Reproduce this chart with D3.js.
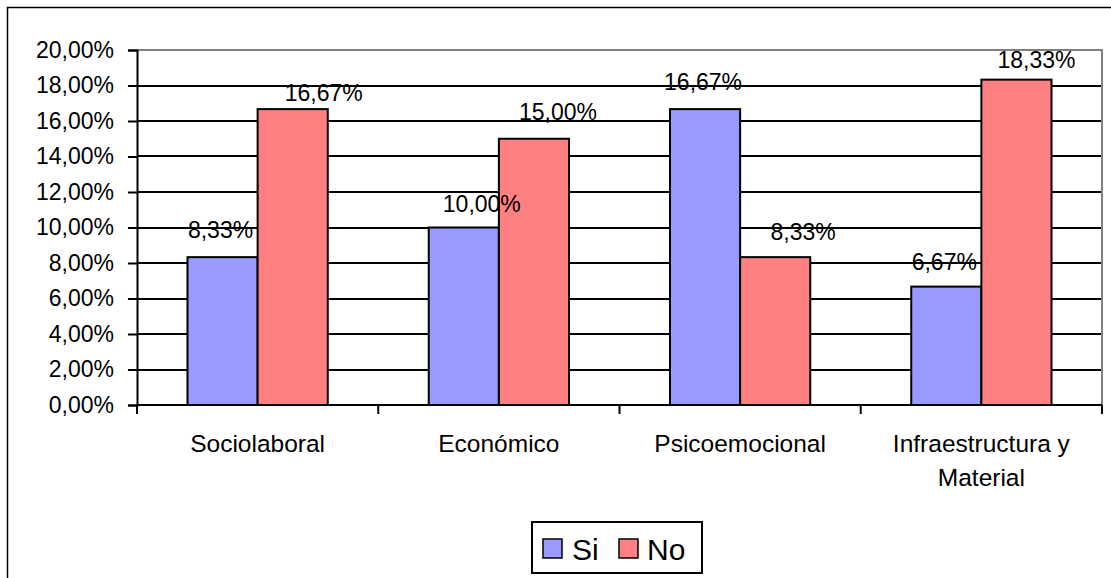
<!DOCTYPE html>
<html>
<head>
<meta charset="utf-8">
<script src="https://cdn.jsdelivr.net/npm/d3@7/dist/d3.min.js"></script>
<style>
  html, body { margin: 0; padding: 0; background: #fff; }
  svg { display: block; font-family: "Liberation Sans", Arial, sans-serif; }
</style>
</head>
<body>
<svg id="chart" width="1111" height="578"></svg>
<script>
// Chart data
const categories = ["Sociolaboral", "Económico", "Psicoemocional", "Infraestructura y Material"];
const seriesNames = ["Si", "No"];
const siValues = [0.0833, 0.10, 0.1667, 0.0667];
const noValues = [0.1667, 0.15, 0.0833, 0.1833];
const yTickValues = [0, 0.02, 0.04, 0.06, 0.08, 0.10, 0.12, 0.14, 0.16, 0.18, 0.20];

// Manual nudges of the value labels [dx, dy] relative to the bar's top centre
const siLabelNudge = [[-2, -19], [18, -16], [-2, -19], [-2, -17]];
const noLabelNudge = [[31, -8], [24, -19], [28, -17], [20, -12]];

const colors = { Si: "#9999FF", No: "#FF8080" };

const svg = d3.select("#chart");

// Chart area border (runs off the right and bottom edges)
svg.append("rect")
  .attr("x", 7.5).attr("y", 7.5)
  .attr("width", 1120).attr("height", 600)
  .attr("fill", "#fff").attr("stroke", "#000").attr("stroke-width", 1.5);

const plot = { left: 137, right: 1102, top: 50, bottom: 405 };

const x0 = d3.scaleBand().domain(categories).range([plot.left, plot.right]).padding(0);
const x1 = d3.scaleBand().domain(seriesNames).range([0, x0.bandwidth()])
  .paddingInner(0).paddingOuter(0.72);
const y = d3.scaleLinear().domain([0, 0.2]).range([plot.bottom, plot.top]);

const locale = d3.formatLocale({ decimal: ",", thousands: ".", grouping: [3], currency: ["", "€"] });
const pct = locale.format(".2%");

// Horizontal gridlines
svg.append("g").selectAll("line")
  .data(yTickValues.filter(v => v > 0 && v < 0.2))
  .join("line")
  .attr("x1", plot.left).attr("x2", plot.right)
  .attr("y1", d => Math.round(y(d))).attr("y2", d => Math.round(y(d)))
  .attr("stroke", "#000").attr("stroke-width", 2);

// Plot area border (top and right, grey)
svg.append("path")
  .attr("d", `M${plot.left},${plot.top}H${plot.right}V${plot.bottom}`)
  .attr("fill", "none").attr("stroke", "#808080").attr("stroke-width", 2);

// Bars
const rows = categories.map((c, i) => ({ cat: c, i, Si: siValues[i], No: noValues[i] }));
const groups = svg.append("g").selectAll("g")
  .data(rows).join("g")
  .attr("transform", d => `translate(${x0(d.cat)},0)`);

groups.selectAll("rect")
  .data(d => seriesNames.map(s => ({ s, v: d[s], i: d.i })))
  .join("rect")
  .attr("x", d => x1(d.s))
  .attr("y", d => y(d.v))
  .attr("width", x1.bandwidth())
  .attr("height", d => y(0) - y(d.v))
  .attr("fill", d => colors[d.s])
  .attr("stroke", "#000").attr("stroke-width", 2);

// Y axis
const yAxis = d3.axisLeft(y).tickValues(yTickValues).tickFormat(pct).tickSize(9).tickPadding(14);
const gy = svg.append("g").attr("transform", `translate(${plot.left},0)`).call(yAxis);
gy.select(".domain").attr("stroke", "#000").attr("stroke-width", 2);
gy.selectAll(".tick line").attr("stroke", "#000").attr("stroke-width", 2);
gy.selectAll(".tick text")
  .attr("font-size", 23).attr("fill", "#000")
  .attr("font-family", '"Liberation Sans", Arial, sans-serif');

// X axis line and category separators
svg.append("line")
  .attr("x1", plot.left).attr("x2", plot.right)
  .attr("y1", plot.bottom).attr("y2", plot.bottom)
  .attr("stroke", "#000").attr("stroke-width", 2);
const sepPositions = categories.map(c => x0(c)).concat([x0(categories[categories.length - 1]) + x0.bandwidth()]);
svg.append("g").selectAll("line")
  .data(sepPositions).join("line")
  .attr("x1", d => d).attr("x2", d => d)
  .attr("y1", plot.bottom).attr("y2", plot.bottom + 9)
  .attr("stroke", "#000").attr("stroke-width", 2);

// Category labels (wrapped over two lines where needed)
const catLines = ["Sociolaboral", "Económico", "Psicoemocional", "Infraestructura y\nMaterial"];
svg.append("g").selectAll("text")
  .data(categories).join("text")
  .attr("x", d => x0(d) + x0.bandwidth() / 2)
  .attr("y", 452)
  .attr("text-anchor", "middle")
  .attr("font-size", 24.5).attr("fill", "#000")
  .each(function (d, i) {
    const parts = catLines[i].split("\n");
    d3.select(this).selectAll("tspan").data(parts).join("tspan")
      .attr("x", x0(d) + x0.bandwidth() / 2)
      .attr("dy", (p, k) => k === 0 ? 0 : 34)
      .text(p => p);
  });

// Value labels
const labelData = [];
categories.forEach((c, i) => {
  labelData.push({ c, s: "Si", v: siValues[i], n: siLabelNudge[i] });
  labelData.push({ c, s: "No", v: noValues[i], n: noLabelNudge[i] });
});
svg.append("g").selectAll("text")
  .data(labelData).join("text")
  .attr("x", d => x0(d.c) + x1(d.s) + x1.bandwidth() / 2 + d.n[0])
  .attr("y", d => y(d.v) + d.n[1])
  .attr("text-anchor", "middle")
  .attr("font-size", 23).attr("fill", "#000")
  .text(d => pct(d.v));

// Legend
const legend = svg.append("g");
legend.append("rect")
  .attr("x", 532).attr("y", 522).attr("width", 170).attr("height", 51)
  .attr("fill", "#fff").attr("stroke", "#000").attr("stroke-width", 2);
const legendItems = [{ s: "Si", x: 543, tx: 572 }, { s: "No", x: 619, tx: 647 }];
legendItems.forEach(it => {
  legend.append("rect")
    .attr("x", it.x).attr("y", 539).attr("width", 19).attr("height", 19)
    .attr("fill", colors[it.s]).attr("stroke", "#000").attr("stroke-width", 1.5);
  legend.append("text")
    .attr("x", it.tx).attr("y", 560)
    .attr("font-size", 30).attr("fill", "#000")
    .text(it.s);
});
</script>
</body>
</html>
